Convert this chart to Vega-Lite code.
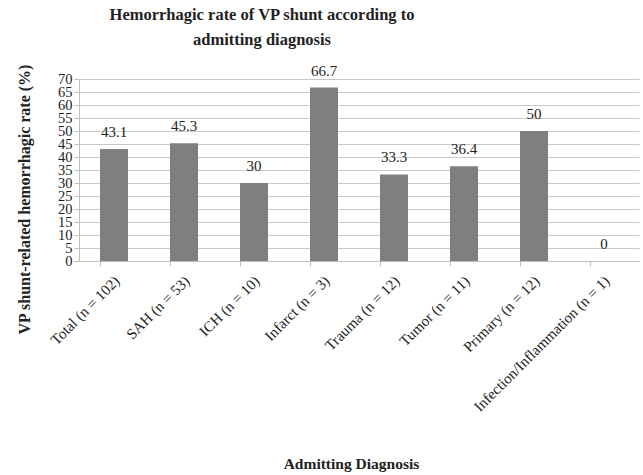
{
  "$schema": "https://vega.github.io/schema/vega-lite/v6.json",
  "autosize": {"type": "none"},
  "padding": {"left": 79, "top": 79, "right": 4, "bottom": 214},
  "width": 560,
  "height": 182,
  "background": "white",
  "title": {
    "text": ["Hemorrhagic rate of VP shunt according to", "admitting diagnosis"],
    "font": "Liberation Serif",
    "fontSize": 16.5,
    "fontWeight": "bold",
    "color": "#222222",
    "anchor": "middle",
    "frame": "group",
    "dx": -97,
    "offset": 15,
    "lineHeight": 25.5
  },
  "data": {
    "values": [
      {"diagnosis": "Total (n = 102)", "rate": 43.1},
      {"diagnosis": "SAH (n = 53)", "rate": 45.3},
      {"diagnosis": "ICH (n = 10)", "rate": 30},
      {"diagnosis": "Infarct (n = 3)", "rate": 66.7},
      {"diagnosis": "Trauma (n = 12)", "rate": 33.3},
      {"diagnosis": "Tumor (n = 11)", "rate": 36.4},
      {"diagnosis": "Primary (n = 12)", "rate": 50},
      {"diagnosis": "Infection/Inflammation (n = 1)", "rate": 0}
    ]
  },
  "encoding": {
    "x": {
      "field": "diagnosis",
      "type": "nominal",
      "sort": null,
      "scale": {"paddingInner": 0.6, "paddingOuter": 0.3},
      "axis": {
        "title": "Admitting Diagnosis",
        "titleFont": "Liberation Serif",
        "titleFontSize": 15.5,
        "titleFontWeight": "bold",
        "titleColor": "#222222",
        "titleX": 272,
        "titleY": 202,
        "titleBaseline": "middle",
        "labelAngle": -45,
        "labelAlign": "right",
        "labelBaseline": "middle",
        "labelFont": "Liberation Serif",
        "labelFontSize": 15,
        "labelColor": "#222222",
        "labelPadding": 12,
        "labelOffset": 3,
        "labelOverlap": false,
        "labelLimit": 300,
        "bandPosition": 0,
        "tickColor": "#bfbfbf",
        "tickSize": 5,
        "domainColor": "#bfbfbf",
        "grid": false
      }
    },
    "y": {
      "field": "rate",
      "type": "quantitative",
      "scale": {"domain": [0, 70], "nice": false},
      "axis": {
        "title": "VP shunt-related hemorrhagic rate (%)",
        "titleFont": "Liberation Serif",
        "titleFontSize": 16,
        "titleFontWeight": "bold",
        "titleColor": "#222222",
        "titleX": -55,
        "titleY": 120,
        "titleAngle": -90,
        "titleAlign": "center",
        "titleBaseline": "middle",
        "values": [0,5,10,15,20,25,30,35,40,45,50,55,60,65,70],
        "labelOverlap": false,
        "labelFont": "Liberation Serif",
        "labelFontSize": 14.5,
        "labelColor": "#222222",
        "labelPadding": 2,
        "tickColor": "#bfbfbf",
        "tickSize": 5,
        "domainColor": "#bfbfbf",
        "gridColor": "#c8c8c8",
        "grid": true
      }
    }
  },
  "layer": [
    {"mark": {"type": "bar", "color": "#7f7f7f"}},
    {
      "mark": {"type": "text", "baseline": "bottom", "dy": -9, "font": "Liberation Serif", "fontSize": 15, "color": "#222222"},
      "encoding": {"text": {"field": "rate", "type": "quantitative"}}
    }
  ],
  "config": {"view": {"stroke": null}}
}
